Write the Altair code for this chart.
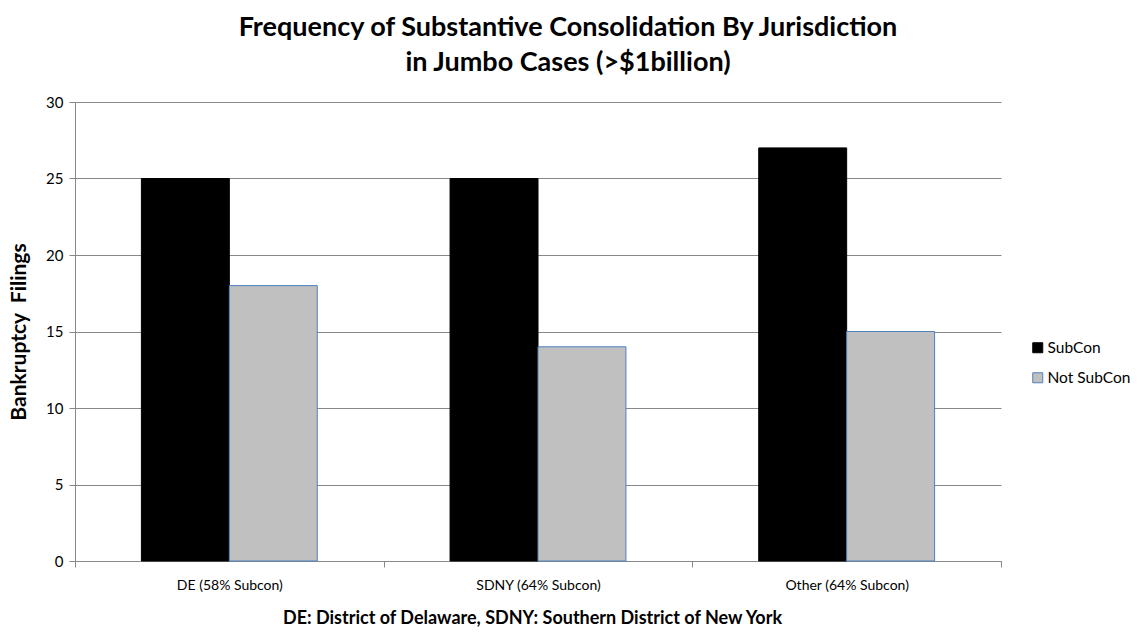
import altair as alt
import pandas as pd

# Jurisdictions and counts of jumbo bankruptcy filings
jurisdictions = ["DE (58% Subcon)", "SDNY (64% Subcon)", "Other (64% Subcon)"]
subcon = [25, 25, 27]
not_subcon = [18, 14, 15]
series_names = ["SubCon", "Not SubCon"]

rows = []
for j, a, b in zip(jurisdictions, subcon, not_subcon):
    rows.append({"Jurisdiction": j, "Series": series_names[0], "Filings": a})
    rows.append({"Jurisdiction": j, "Series": series_names[1], "Filings": b})
df = pd.DataFrame(rows)

FONT = "Lato"

chart = (
    alt.Chart(df)
    .mark_bar(strokeWidth=1)
    .encode(
        x=alt.X(
            "Jurisdiction:N",
            sort=jurisdictions,
            scale=alt.Scale(paddingInner=0, paddingOuter=0),
            axis=alt.Axis(
                title="DE: District of Delaware, SDNY: Southern District of New York",
                labelAngle=0,
                tickBand="extent",
                labelPadding=11,
                titlePadding=17,
                titleFontSize=18,
                titleFontWeight="bold",
                titleColor="black",
                titleX=457,
                labelFontSize=14,
                labelColor="black",
            ),
        ),
        xOffset=alt.XOffset(
            "Series:N",
            sort=series_names,
            scale=alt.Scale(paddingInner=0, paddingOuter=0.755),
        ),
        y=alt.Y(
            "Filings:Q",
            scale=alt.Scale(domain=[0, 30]),
            axis=alt.Axis(
                # non-breaking space keeps the wide gap between the two words
                title="Bankruptcy\u00a0 Filings",
                values=[0, 5, 10, 15, 20, 25, 30],
                titleFontSize=21,
                titleFontWeight="bold",
                titleColor="black",
                titlePadding=16,
                labelFontSize=15,
                labelColor="black",
                labelPadding=6,
            ),
        ),
        color=alt.Color(
            "Series:N",
            sort=series_names,
            scale=alt.Scale(domain=series_names, range=["#000000", "#C0C0C0"]),
            legend=alt.Legend(
                title=None,
                orient="none",
                legendX=955,
                legendY=238,
                symbolType="square",
                symbolSize=100,
                symbolStrokeWidth=1,
                labelFontSize=15.5,
                labelColor="black",
                rowPadding=13,
                labelOffset=2,
            ),
        ),
        stroke=alt.Stroke(
            "Series:N",
            sort=series_names,
            scale=alt.Scale(domain=series_names, range=["#000000", "#4F81BD"]),
            legend=None,
        ),
    )
    .properties(
        width=926,
        height=459,
        title=alt.TitleParams(
            text=[
                "Frequency of Substantive Consolidation By Jurisdiction",
                "in Jumbo Cases (>$1billion)",
            ],
            fontSize=27,
            fontWeight="bold",
            font=FONT,
            color="black",
            lineHeight=35,
            offset=18,
            anchor="middle",
            dx=30,
        ),
        autosize=alt.AutoSizeParams(type="none"),
        padding={"left": 75, "top": 102, "right": 136, "bottom": 72},
    )
    .configure(font=FONT)
    .configure_axis(
        domainColor="#888888",
        tickColor="#888888",
        gridColor="#888888",
        tickSize=6,
        labelFont=FONT,
        titleFont=FONT,
    )
    .configure_axisX(grid=False)
    .configure_legend(labelFont=FONT)
    .configure_view(stroke=None)
)

chart.save("out.html", embed_options={"renderer": "svg", "actions": False})
